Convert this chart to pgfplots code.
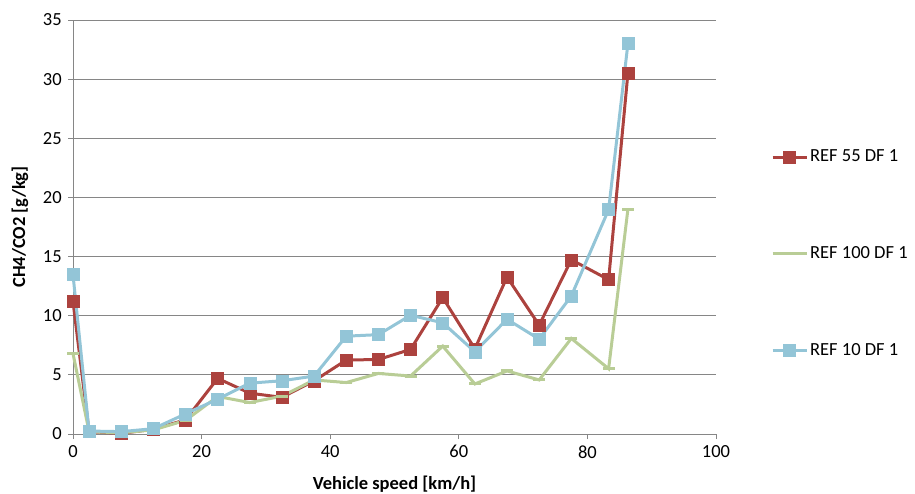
\documentclass[border=0pt]{standalone}
\usepackage{fontspec}
\setmainfont{Carlito}
\usepackage{pgfplots}
\pgfplotsset{compat=1.18}
\definecolor{cred}{RGB}{172,66,62}
\definecolor{cgreen}{RGB}{185,205,150}
\definecolor{cblue}{RGB}{147,197,215}
\definecolor{cgrid}{RGB}{134,134,134}
\begin{document}
\fontsize{18.5bp}{21bp}\selectfont
\begin{tikzpicture}
\useasboundingbox (-73bp,-60bp) rectangle (842bp,434bp);
\begin{axis}[
  at={(0,0)}, anchor=origin,
  scale only axis, width=643bp, height=414bp,
  xmin=0, xmax=100, ymin=0, ymax=35,
  xtick={0,20,...,100}, ytick={0,5,...,35},
  axis x line=bottom, axis y line=left,
  axis line style={-, draw=cgrid, line width=0.8bp},
  tick align=outside, major tick length=5bp,
  tick style={draw=cgrid, line width=0.8bp},
  ymajorgrids, grid style={draw=cgrid, line width=0.8bp},
  /pgf/number format/assume math mode=true,
  ticklabel style={font=\fontsize{18.5bp}{21bp}\selectfont},
  xlabel={\bfseries Vehicle speed [km/h]},
  ylabel={\bfseries CH4/CO2 [g/kg]},
  label style={font=\fontsize{18.5bp}{21bp}\selectfont},
  xlabel style={yshift=-5bp},
  ylabel style={yshift=2bp},
  legend cell align=left,
  legend style={draw=none, fill=none, at={(1.0855,0.692)}, anchor=north west,
    row sep=78bp, font=\fontsize{18.5bp}{21bp}\selectfont, inner sep=0pt},
  legend image code/.code={\draw[mark repeat=2,mark phase=2] plot coordinates {(0bp,0bp)(17bp,0bp)(34bp,0bp)};},
  clip=false,
]
\addplot[cred, line width=3bp, mark=square*, mark size=6bp, mark options={solid, line width=0.5bp}] coordinates {
(0,11.2)(2.5,0.2)(7.5,0.05)(12.5,0.4)(17.5,1.2)(22.5,4.7)(27.5,3.45)(32.5,3.1)(37.5,4.5)(42.5,6.25)(47.5,6.3)(52.5,7.15)(57.5,11.53)(62.5,7.2)(67.5,13.27)(72.5,9.2)(77.5,14.73)(83.3,13.05)(86.3,30.5)};
\addlegendentry{REF 55 DF 1}
\addplot[cgreen, line width=3bp, mark=-, mark size=6bp, mark options={solid, line width=3bp}] coordinates {
(0,6.8)(2.5,0.2)(7.5,0.1)(12.5,0.35)(17.5,1.15)(22.5,3.17)(27.5,2.66)(32.5,3.2)(37.5,4.57)(42.5,4.35)(47.5,5.12)(52.5,4.9)(57.5,7.43)(62.5,4.23)(67.5,5.33)(72.5,4.57)(77.5,8.08)(83.3,5.52)(86.3,19.0)};
\addlegendentry{REF 100 DF 1}
\addplot[cblue, line width=3bp, mark=square*, mark size=6bp, mark options={solid, line width=0.5bp}] coordinates {
(0,13.47)(2.5,0.25)(7.5,0.2)(12.5,0.45)(17.5,1.7)(22.5,2.95)(27.5,4.3)(32.5,4.5)(37.5,4.9)(42.5,8.27)(47.5,8.4)(52.5,10.04)(57.5,9.4)(62.5,6.95)(67.5,9.7)(72.5,8.02)(77.5,11.67)(83.3,18.97)(86.3,33.0)};
\addlegendentry{REF 10 DF 1}
\end{axis}
\end{tikzpicture}
\end{document}
